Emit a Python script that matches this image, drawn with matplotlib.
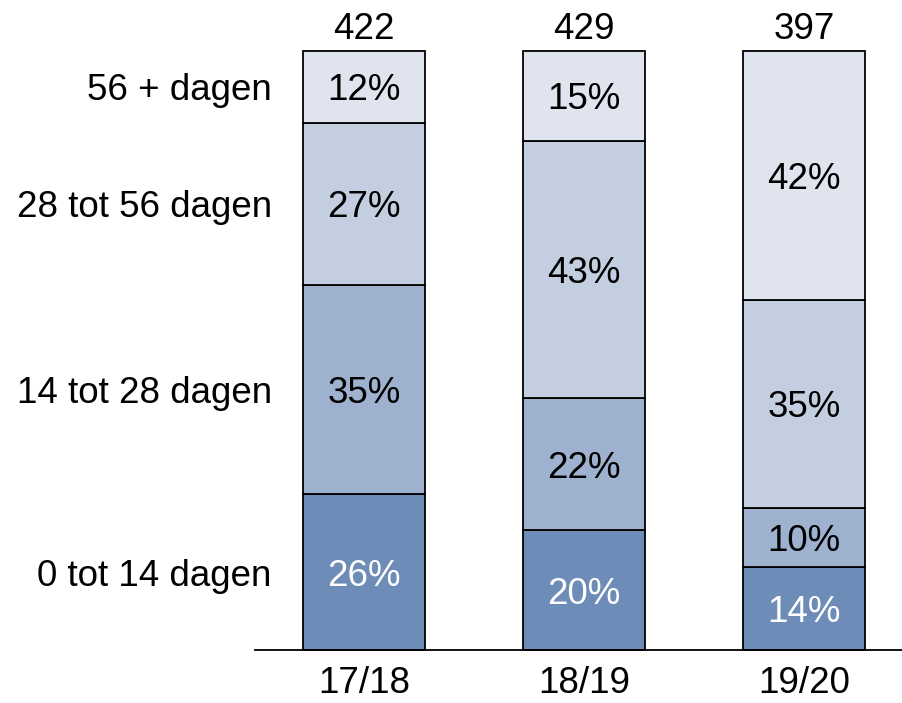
import matplotlib
matplotlib.use("Agg")
import matplotlib.pyplot as plt
import numpy as np

plt.rcParams['font.family'] = ['Liberation Sans', 'DejaVu Sans']

years = ["17/18", "18/19", "19/20"]
totals = [422, 429, 397]
categories = ["0 tot 14 dagen", "14 tot 28 dagen", "28 tot 56 dagen", "56 + dagen"]
pct_0_14 = [26, 20, 14]
pct_14_28 = [35, 22, 10]
pct_28_56 = [27, 43, 35]
pct_56_plus = [12, 15, 42]

colors = ["#6d8cb8", "#9eb1cf", "#c3cee1", "#dfe4ee"]
text_colors = ["white", "black", "black", "black"]

series = [pct_0_14, pct_14_28, pct_28_56, pct_56_plus]
data = np.array(series, dtype=float)
sums = data.sum(axis=0)
heights = data / sums * 100

fig = plt.figure(figsize=(9.02, 7.03), dpi=100)
ax = fig.add_axes([255/902, (703-650)/703, 647/902, (650-51)/703])

x = np.arange(len(years))
width = 0.555
bottom = np.zeros(len(years))
fs = 26.5
for i, h in enumerate(heights):
    ax.bar(x, h, width, bottom=bottom, color=colors[i], edgecolor="black", linewidth=1.3,
           zorder=2, clip_on=False)
    for j in range(len(years)):
        ax.text(x[j], bottom[j] + h[j] / 2, f"{series[i][j]}%", ha="center", va="center_baseline",
                fontsize=fs, color=text_colors[i], zorder=3)
    ax.text(0.026, bottom[0] + h[0] / 2, categories[i], transform=ax.get_yaxis_transform(),
            ha="right", va="center_baseline", fontsize=fs, color="black")
    bottom += h

for j in range(len(years)):
    ax.text(x[j], 100 + 4.2, str(totals[j]), ha="center", va="center_baseline", fontsize=fs, clip_on=False)
    ax.text(x[j], -5.0, years[j], ha="center", va="center_baseline", fontsize=fs, clip_on=False)

ax.set_xlim(-0.495, 2.445)
ax.set_ylim(0, 100)
ax.set_xticks([])
ax.set_yticks([])
for s in ["left", "right", "top"]:
    ax.spines[s].set_visible(False)
ax.spines["bottom"].set_linewidth(1.3)
ax.patch.set_visible(False)

fig.savefig("out.png", dpi=100)
